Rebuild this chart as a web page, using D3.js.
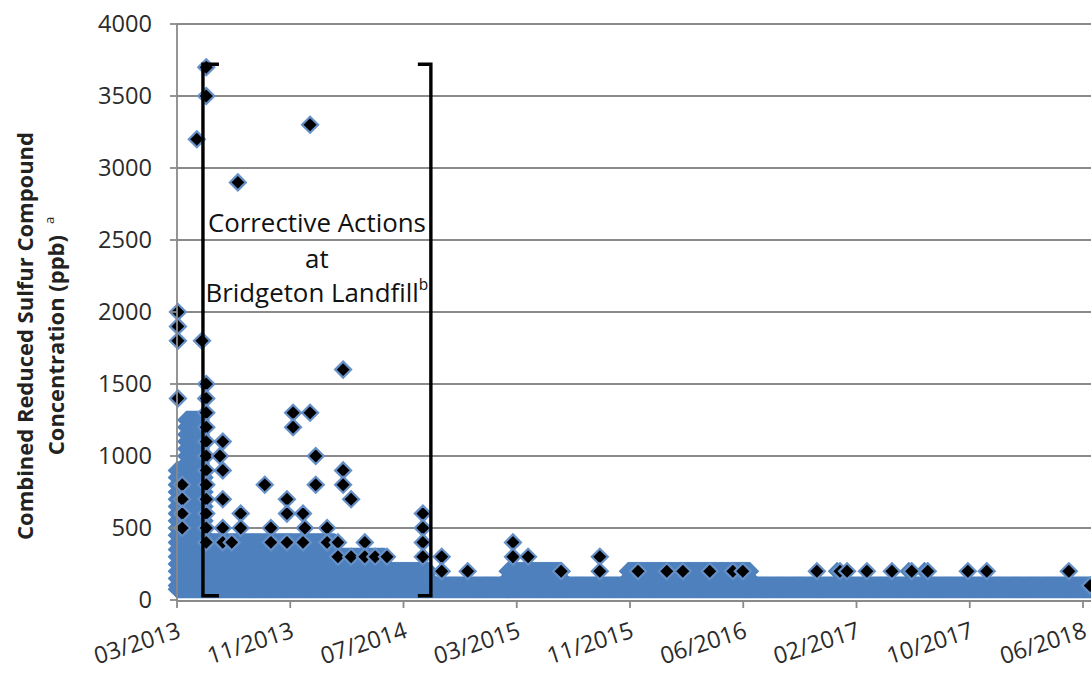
<!DOCTYPE html>
<html>
<head>
<meta charset="utf-8">
<script src="https://cdn.jsdelivr.net/npm/d3@7"></script>
<style>
  html, body { margin: 0; padding: 0; background: #ffffff; }
  svg { display: block; }
</style>
</head>
<body>
<svg id="chart" width="1091" height="673"></svg>
<script>
// ---------------- DATA ----------------
const yTickValues = [0, 500, 1000, 1500, 2000, 2500, 3000, 3500, 4000];
const xTickDates = ["2013-03-16", "2013-11-11", "2014-07-09", "2015-03-06", "2015-11-01",
                    "2016-06-28", "2017-02-23", "2017-10-21", "2018-06-18"];

// detected readings (black diamonds): [date, values (ppb)]
const detected = [
  ["2013-03-18", [2000, 1900, 1800, 1400]],
  ["2013-03-27", [800, 700, 600, 500]],
  ["2013-04-27", [3200]],
  ["2013-05-08", [1800]],
  ["2013-05-17", [3700, 3500, 1500, 1400, 1300, 1200, 1100, 1000, 900, 800, 700, 600, 500, 400]],
  ["2013-06-15", [1000]],
  ["2013-06-21", [1100, 900, 700, 500, 400]],
  ["2013-07-10", [400]],
  ["2013-07-23", [2900]],
  ["2013-07-29", [600, 500]],
  ["2013-09-18", [800]],
  ["2013-10-01", [500, 400]],
  ["2013-11-04", [700, 600, 400]],
  ["2013-11-17", [1300, 1200]],
  ["2013-12-08", [600, 400]],
  ["2013-12-12", [500]],
  ["2013-12-23", [3300, 1300]],
  ["2014-01-04", [1000, 800]],
  ["2014-01-28", [500, 400]],
  ["2014-02-20", [400, 300]],
  ["2014-03-03", [1600, 900, 800]],
  ["2014-03-20", [700, 300]],
  ["2014-04-18", [400, 300]],
  ["2014-05-10", [300]],
  ["2014-06-04", [300]],
  ["2014-08-19", [600, 500, 400, 300]],
  ["2014-09-28", [300, 200]],
  ["2014-11-22", [200]],
  ["2015-02-26", [400, 300]],
  ["2015-03-30", [300]],
  ["2015-06-08", [200]],
  ["2015-08-29", [300, 200]],
  ["2015-11-18", [200]],
  ["2016-01-18", [200]],
  ["2016-02-21", [200]],
  ["2016-04-18", [200]],
  ["2016-06-06", [200]],
  ["2016-06-27", [200]],
  ["2016-12-01", [200]],
  ["2017-01-19", [200]],
  ["2017-02-03", [200]],
  ["2017-03-17", [200]],
  ["2017-05-09", [200]],
  ["2017-06-20", [200]],
  ["2017-07-24", [200]],
  ["2017-10-17", [200]],
  ["2017-11-26", [200]],
  ["2018-05-19", [200]],
  ["2018-07-03", [100]]
];

// routine (dense) readings: period start, period end, highest band reached (ppb)
const routinePeriods = [
  ["2013-03-16", "2013-04-04", 900],
  ["2013-04-05", "2013-05-06", 1250],
  ["2013-05-07", "2013-05-14", 900],
  ["2013-05-15", "2014-02-14", 400],
  ["2014-02-15", "2014-05-31", 300],
  ["2014-06-01", "2014-09-02", 200],
  ["2014-09-03", "2015-02-14", 100],
  ["2015-02-15", "2015-06-10", 200],
  ["2015-06-11", "2015-10-27", 100],
  ["2015-10-28", "2016-07-12", 200],
  ["2016-07-13", "2018-07-05", 100]
];
const routineLowBands = [75, 100];
const routineBandStep = 50;
const routineSampleDays = 2;
// isolated routine readings above the band
const routineSingles = [
  ["2017-01-13", 200], ["2017-06-14", 200], ["2017-07-17", 200]
];

// bracket marking corrective actions
const bracketDates = ["2013-05-10", "2014-09-05"];
const bracketValues = [30, 3720];

const yTitle1 = "Combined Reduced Sulfur Compound";
const yTitle2 = "Concentration (ppb)";
const yTitleSup = "a";
const noteLines = ["Corrective Actions", "at", "Bridgeton Landfill"];
const noteSup = "b";

// ---------------- CHART ----------------
const parse = d3.utcParse("%Y-%m-%d");
const svg = d3.select("#chart");
const FONT = "'Open Sans', 'Noto Sans', sans-serif";
const GRID = "#8a8a8a";
const BLUE = "#4F81BD";

const plotLeft = 177, plotRight = 1091, plotTop = 24, plotBottom = 600;
const x = d3.scaleUtc()
  .domain([parse(xTickDates[0]), parse(xTickDates[xTickDates.length - 1])])
  .range([177, 1083]);
const y = d3.scaleLinear().domain([0, 4000]).range([plotBottom, plotTop]);

function fit(sel, target) {
  const w = sel.node().getComputedTextLength();
  const fs = parseFloat(sel.attr("font-size"));
  sel.attr("font-size", (fs * target / w).toFixed(2));
}

// gridlines
svg.append("g").selectAll("line")
  .data(yTickValues.filter(v => v > 0))
  .join("line")
  .attr("x1", plotLeft).attr("x2", plotRight)
  .attr("y1", d => y(d)).attr("y2", d => y(d))
  .attr("stroke", GRID).attr("stroke-width", 1.8);

const diamond = r => `M0,${-r}L${r},0L0,${r}L${-r},0Z`;

// routine readings (dense blue band)
const routinePts = [];
routinePeriods.forEach(([a, b, top]) => {
  const bands = routineLowBands.slice();
  for (let v = 150; v <= top; v += routineBandStep) bands.push(v);
  for (let d = parse(a); d <= parse(b); d = d3.utcDay.offset(d, routineSampleDays)) {
    bands.forEach(v => routinePts.push([d, v]));
  }
});
routineSingles.forEach(([d, v]) => routinePts.push([parse(d), v]));

const gPts = svg.append("g");
gPts.append("g").selectAll("path")
  .data(routinePts)
  .join("path")
  .attr("d", diamond(9.4))
  .attr("transform", d => `translate(${x(d[0]).toFixed(2)},${y(d[1]).toFixed(2)})`)
  .attr("fill", BLUE);

// detected readings
const detPts = [];
detected.forEach(([d, vals]) => vals.forEach(v => detPts.push([parse(d), v])));
gPts.append("g").selectAll("path")
  .data(detPts)
  .join("path")
  .attr("d", diamond(8))
  .attr("transform", d => `translate(${x(d[0]).toFixed(2)},${y(d[1]).toFixed(2)})`)
  .attr("fill", "#000")
  .attr("stroke", "#6690c8")
  .attr("stroke-width", 2.2)
  .attr("stroke-linejoin", "miter");

// axes
const axisG = svg.append("g");
axisG.append("line")
  .attr("x1", plotLeft).attr("x2", plotLeft)
  .attr("y1", plotTop).attr("y2", plotBottom)
  .attr("stroke", GRID).attr("stroke-width", 1.8);
axisG.append("line")
  .attr("x1", plotLeft).attr("x2", plotRight)
  .attr("y1", plotBottom + 1).attr("y2", plotBottom + 1)
  .attr("stroke", GRID).attr("stroke-width", 1.8);
axisG.selectAll(".yt")
  .data(yTickValues)
  .join("line")
  .attr("x1", plotLeft - 7).attr("x2", plotLeft)
  .attr("y1", d => y(d)).attr("y2", d => y(d))
  .attr("stroke", GRID).attr("stroke-width", 1.8);
axisG.selectAll(".xt")
  .data(xTickDates.map(parse))
  .join("line")
  .attr("x1", d => x(d)).attr("x2", d => x(d))
  .attr("y1", plotBottom).attr("y2", plotBottom + 8)
  .attr("stroke", GRID).attr("stroke-width", 1.8);

// y tick labels
const yl = axisG.selectAll(".ylab")
  .data(yTickValues)
  .join("text")
  .attr("x", 152)
  .attr("y", d => y(d))
  .attr("dy", "0.35em")
  .attr("text-anchor", "end")
  .attr("font-family", FONT)
  .attr("font-size", 22)
  .attr("fill", "#2b2b2b")
  .text(d => d);
const probe = yl.filter(d => d === 4000);
const fsY = (22 * 54 / probe.node().getComputedTextLength());
yl.attr("font-size", fsY.toFixed(2));

// x tick labels
const fmt = d3.utcFormat("%m/%Y");
const xl = axisG.selectAll(".xlab")
  .data(xTickDates.map(parse))
  .join("text")
  .attr("transform", d => `translate(${x(d) + 5},${plotBottom + 37}) rotate(-18)`)
  .attr("text-anchor", "end")
  .attr("font-family", FONT)
  .attr("font-size", 22)
  .attr("fill", "#2b2b2b")
  .text(d => fmt(d));
const fsX = 22 * 89 / xl.node().getComputedTextLength();
xl.attr("font-size", fsX.toFixed(2));

// y axis title
const cy = 336;
const t1 = svg.append("text")
  .attr("transform", `translate(33,${cy}) rotate(-90)`)
  .attr("text-anchor", "middle")
  .attr("font-family", FONT).attr("font-weight", 700)
  .attr("font-size", 20).attr("fill", "#222")
  .text(yTitle1);
fit(t1, 408);
const t2 = svg.append("text")
  .attr("transform", `translate(64,${cy}) rotate(-90)`)
  .attr("text-anchor", "middle")
  .attr("font-family", FONT).attr("font-weight", 700)
  .attr("font-size", t1.attr("font-size")).attr("fill", "#222");
t2.append("tspan").text(yTitle2);
t2.append("tspan").text("\u2002");
t2.append("tspan").attr("font-size", "0.6em").attr("dy", "-0.75em").attr("font-weight", 400).text(yTitleSup);

// bracket
const bx0 = x(parse(bracketDates[0])), bx1 = x(parse(bracketDates[1]));
const by0 = y(bracketValues[0]), by1 = y(bracketValues[1]);
const bracket = svg.append("g").attr("fill", "none").attr("stroke", "#000")
  .attr("stroke-width", 3.4).attr("stroke-linejoin", "miter");
bracket.append("path").attr("d", `M${bx0 + 16},${by1}H${bx0}V${by0}H${bx0 + 16}`);
bracket.append("path").attr("d", `M${bx1 - 13},${by1}H${bx1}V${by0}H${bx1 - 13}`);

// annotation
const noteX = (bx0 + bx1) / 2;
const noteY = [232, 268, 302];
const n0 = svg.append("text")
  .attr("x", noteX).attr("y", noteY[0])
  .attr("text-anchor", "middle").attr("font-family", FONT)
  .attr("font-size", 22).attr("fill", "#111")
  .text(noteLines[0]);
fit(n0, 218);
const fsN = n0.attr("font-size");
svg.append("text")
  .attr("x", noteX).attr("y", noteY[1])
  .attr("text-anchor", "middle").attr("font-family", FONT)
  .attr("font-size", fsN).attr("fill", "#111")
  .text(noteLines[1]);
const n2 = svg.append("text")
  .attr("x", noteX).attr("y", noteY[2])
  .attr("text-anchor", "middle").attr("font-family", FONT)
  .attr("font-size", fsN).attr("fill", "#111");
n2.append("tspan").text(noteLines[2]);
n2.append("tspan").attr("font-size", "0.6em").attr("dy", "-0.8em").text(noteSup);
</script>
</body>
</html>
